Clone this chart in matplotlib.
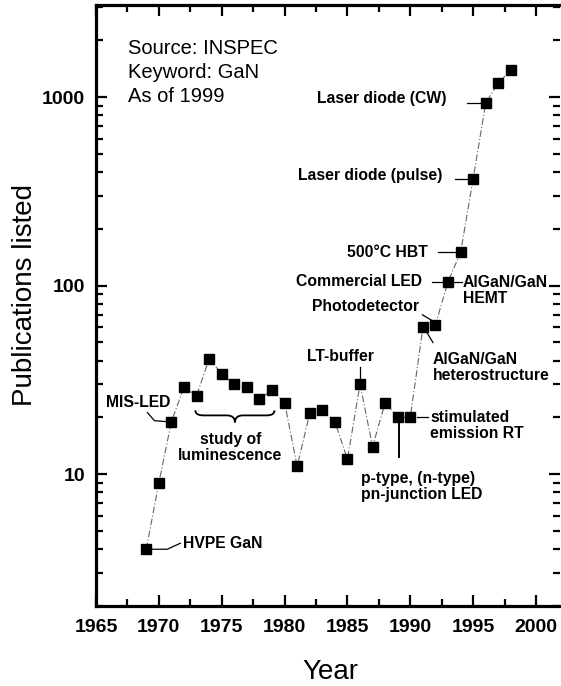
import matplotlib
matplotlib.use("Agg")
import matplotlib.pyplot as plt
from matplotlib.path import Path
from matplotlib.patches import PathPatch
from matplotlib.ticker import LogLocator, NullFormatter, MultipleLocator

# -- data -------------------------------------------------------------------
years = list(range(1969, 1999))
pubs = [4, 9, 19, 29, 26, 41, 34, 30, 29, 25, 28, 24, 11, 21, 22, 19, 12,
        30, 14, 24, 20, 20, 60, 62, 105, 150, 370, 930, 1190, 1390]

ann_labels = ["HVPE GaN", "MIS-LED", "LT-buffer",
              "p-type, (n-type)\npn-junction LED", "stimulated\nemission RT",
              "AlGaN/GaN\nheterostructure", "Photodetector", "Commercial LED",
              "AlGaN/GaN\nHEMT", "500°C HBT", "Laser diode (pulse)",
              "Laser diode (CW)"]
ann_years = [1969, 1971, 1986, 1989, 1990, 1991, 1992, 1993, 1993, 1994,
             1995, 1996]

brace_years = (1972.9, 1979.2)
brace_level = 21.8
brace_label = "study of\nluminescence"

source_text = "Source: INSPEC\nKeyword: GaN\nAs of 1999"

# -- layout (pixel offsets from the marker, x right / y down) ----------------
ann_offsets = [(37, -6), (-33, -19), (-20, -28), (-37, 69), (20, 8), (10, 40),
               (-16, -18), (-26, 0), (15, 9), (-33, 0), (-31, -3), (-39, -5)]
ann_ha = ["left", "center", "center", "left", "left", "left", "right",
          "right", "left", "right", "right", "right"]
leaders = [[(5, 0), (21, 0), (34, -6)],
           [(-24, -9), (-17, -1), (-5, 0)],
           [(0, -17), (0, -5)],
           [(1, 5), (1, 40)],
           [(7, 0), (18, 0)],
           [(4, 5), (10, 15)],
           [(-13, -10), (-3, -4)],
           [(-16, 0), (-5, 0)],
           [(5, 0), (14, 0)],
           [(-23, 0), (-5, 0)],
           [(-18, 0), (-5, 0)],
           [(-19, 0), (-5, 0)]]
leader_lw = [0.9, 0.9, 0.9, 1.4, 0.9, 0.9, 0.9, 0.9, 0.9, 0.9, 0.9, 0.9]

plt.rcParams["font.family"] = ["Liberation Sans", "DejaVu Sans"]

fig = plt.figure(figsize=(5.61, 6.86), dpi=100)
ax = fig.add_axes([0.1711, 0.1166, 0.827, 0.876])
ax.set_yscale("log")
ax.set_xlim(1965, 2001.9)
ax.set_ylim(2, 3076)


def px_to_data(x, y, dx, dy):
    """Shift a data point by (dx, dy) pixels (dy pointing down) -> data coords."""
    px, py = ax.transData.transform((x, y))
    return ax.transData.inverted().transform((px + dx, py - dy))


# connecting line + markers
ax.plot(years, pubs, color="#666666", lw=0.8, ls=(0, (6, 2, 1, 2)), zorder=2)
ax.plot(years, pubs, ls="none", marker="s", ms=7, color="black", zorder=3)

# annotations
lookup = dict(zip(years, pubs))
for label, yr, (dx, dy), ha, pts, lw in zip(ann_labels, ann_years, ann_offsets,
                                             ann_ha, leaders, leader_lw):
    val = lookup[yr]
    ax.annotate(label, xy=(yr, val), xytext=(dx, -dy), textcoords="offset pixels",
                ha=ha, va="center", fontsize=11.3, fontweight="bold",
                linespacing=1.1)
    line = [px_to_data(yr, val, ox, oy) for ox, oy in pts]
    ax.plot([p[0] for p in line], [p[1] for p in line], color="black", lw=lw,
            zorder=2)

# curly brace for the luminescence period
x0, x1 = brace_years
xc = 0.5 * (x0 + x1)
p0 = ax.transData.transform((x0, brace_level))
p1 = ax.transData.transform((x1, brace_level))
pc = ax.transData.transform((xc, brace_level))
top = p0[1]
mid, tip = top - 5, top - 12
verts_px = [(p0[0], top), (p0[0], mid), (p0[0] + 8, mid),
            (pc[0] - 8, mid), (pc[0], mid), (pc[0], tip),
            (pc[0], mid), (pc[0] + 8, mid),
            (p1[0] - 8, mid), (p1[0], mid), (p1[0], top)]
codes = [Path.MOVETO, Path.CURVE3, Path.CURVE3,
         Path.LINETO, Path.CURVE3, Path.CURVE3,
         Path.CURVE3, Path.CURVE3,
         Path.LINETO, Path.CURVE3, Path.CURVE3]
verts = ax.transData.inverted().transform(verts_px)
ax.add_patch(PathPatch(Path(verts, codes), fill=False, lw=1.3, color="black"))
ax.annotate(brace_label, xy=(1976, brace_level), xytext=(-4, -37),
            textcoords="offset pixels", ha="center", va="center",
            fontsize=11.3, fontweight="bold", linespacing=1.1)

ax.text(0.069, 0.943, source_text, transform=ax.transAxes, va="top", ha="left",
        fontsize=14.5, linespacing=1.32)

# axes styling
ax.set_yticks([10, 100, 1000], labels=["10", "100", "1000"])
ax.yaxis.set_minor_locator(LogLocator(base=10, subs=range(2, 10)))
ax.yaxis.set_minor_formatter(NullFormatter())
ax.xaxis.set_major_locator(MultipleLocator(5))
ax.xaxis.set_minor_locator(MultipleLocator(2.5))

ax.tick_params(which="both", direction="in", top=True, right=True, width=1.6)
ax.tick_params(which="major", length=8, labelsize=14, pad=9)
ax.tick_params(which="minor", length=5)
ax.tick_params(axis="y", which="major", pad=8)
for lbl in ax.get_xticklabels() + ax.get_yticklabels():
    lbl.set_fontweight("bold")

for side in ["left", "bottom", "top"]:
    ax.spines[side].set_linewidth(2.3)
ax.spines["right"].set_visible(False)

ax.set_xlabel("Year", fontsize=20)
ax.set_ylabel("Publications listed", fontsize=20)
ax.xaxis.set_label_coords(0.506, -0.11)
ax.xaxis.label.set_va("center")
ax.yaxis.set_label_coords(-0.153, 0.517)
ax.yaxis.label.set_va("center")

fig.savefig("out.png", dpi=100)
